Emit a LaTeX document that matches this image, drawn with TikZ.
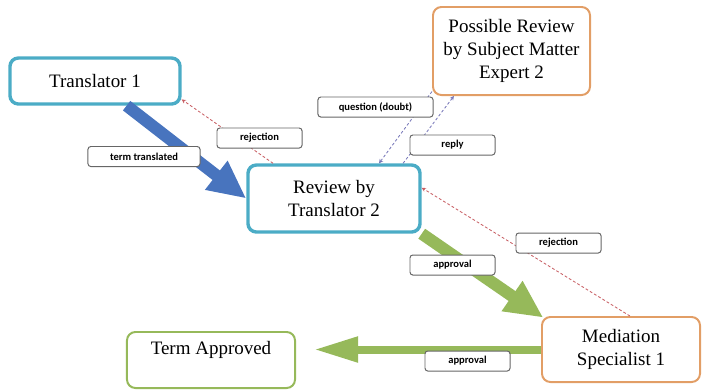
\documentclass[tikz,border=0pt]{standalone}
\usepackage{fontspec}
\setmainfont{Liberation Serif}
\newfontfamily\tagfont{Carlito}
\usetikzlibrary{arrows.meta}
\definecolor{tealbox}{RGB}{75,172,198}
\definecolor{orangebox}{RGB}{226,158,102}
\definecolor{greenbox}{RGB}{150,185,90}
\definecolor{bluearrow}{RGB}{72,116,190}
\definecolor{rejred}{RGB}{200,95,100}
\definecolor{askblue}{RGB}{120,120,185}
\tikzset{
	box/.style={draw, rounded corners=6pt, fill=white, align=center, inner sep=2pt,
		font=\fontsize{13.5}{16.5}\selectfont},
	boxteal/.style={box, draw=tealbox, line width=2.4pt},
	boxorange/.style={box, draw=orangebox, line width=1.4pt},
	boxgreen/.style={box, draw=greenbox, line width=1.4pt},
	tag/.style={draw=black!60, rounded corners=2pt, fill=white, line width=0.7pt,
		minimum height=0.5cm, minimum width=2.125cm, inner sep=1pt,
		font=\tagfont\bfseries\fontsize{7.5}{9}\selectfont},
	fatarrow/.style={line width=0.3cm, -{Triangle[length=0.95cm,width=0.85cm]}},
	dashline/.style={line width=0.6pt, dash pattern=on 2pt off 1.5pt, -{Stealth[length=3pt,width=3pt]}}
}
\begin{document}
\begin{tikzpicture}[x=0.025cm, y=-0.025cm]
	\useasboundingbox (0,0) rectangle (703,391);
	% boxes
	\node[boxteal, minimum width=4.25cm, minimum height=1.15cm] (tr1) at (95,81) {Translator 1};
	\node[boxteal, minimum width=4.3cm, minimum height=1.675cm] (rev) at (334,198.5) {Review by\\Translator 2};
	\node[boxorange, minimum width=3.925cm, minimum height=2.2cm] (sme) at (511.5,51) {Possible Review\\by Subject Matter\\Expert 2};
	\node[boxorange, minimum width=3.95cm, minimum height=1.625cm] (med) at (621,349.5) {Mediation\\Specialist 1};
	\node[boxgreen, minimum width=4.2cm, minimum height=1.4cm] (ta) at (211,360) {Term Approved\\\mbox{}};
	% thick arrows
	\draw[fatarrow, bluearrow] (tr1.-38) -- (rev.west);
	\draw[fatarrow, greenbox, shorten >=-2pt] (rev.south east) -- (med.north west);
	\draw[greenbox, line width=0.2cm, -{Triangle[length=1.1cm,width=0.6cm]}, shorten >=0.45cm] (med.west) -- (med.west -| ta.east);
	% dashed arrows
	\draw[dashline, rejred] (rev.150) -- (tr1.-12);
	\draw[dashline, rejred] (med.75) -- (rev.7);
	\draw[dashline, askblue] (sme.-153) -- (rev.38);
	\draw[dashline, askblue] (rev.27) -- (sme.-142);
	% labels
	\node[tag, minimum width=2.8cm] (tagtrans) at (144,156.5) {term translated};
	\node[tag, minimum width=2.875cm] (tagask) at (375.5,107) {question (doubt)};
	\foreach \n/\x/\y/\t in {tagrej1/259.5/138/rejection, tagreply/452.5/145/reply,
		tagrej2/558.5/243/rejection, tagok1/452.5/265/approval, tagok2/467.5/361/approval}{
		\node[tag] (\n) at (\x,\y) {\t};
	}
\end{tikzpicture}
\end{document}
